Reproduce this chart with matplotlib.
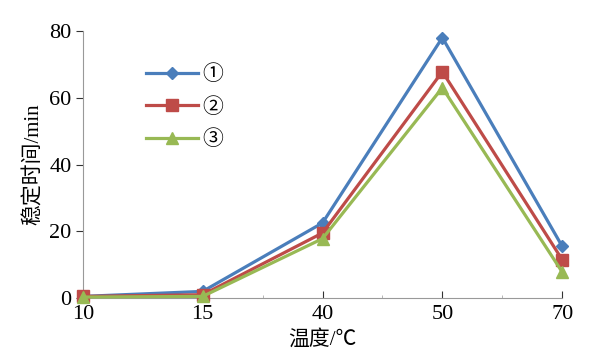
import numpy as np
import matplotlib.pyplot as plt

plt.rcParams['font.family'] = ['Liberation Serif', 'Noto Sans CJK SC', 'DejaVu Sans']

# data
temps = ['10', '15', '40', '50', '70']
s1 = [0.5, 2.0, 22.5, 78.0, 15.5]
s2 = [0.5, 1.0, 19.5, 67.8, 11.5]
s3 = [0.3, 0.5, 17.8, 63.0, 7.8]
names = ['①', '②', '③']

fig = plt.figure(figsize=(6, 3.6), dpi=100)
ax = fig.add_axes([0.138, 0.172, 0.799, 0.742])

x = np.arange(len(temps))
ax.plot(x, s1, color='#4a7ebb', lw=2.3, marker='D', ms=6.5, label=names[0], clip_on=False, zorder=3)
ax.plot(x, s2, color='#be4b48', lw=2.3, marker='s', ms=8, label=names[1], clip_on=False, zorder=3)
ax.plot(x, s3, color='#98b954', lw=2.3, marker='^', ms=9, label=names[2], clip_on=False, zorder=3)

ax.set_xlim(0, len(temps) - 1)
ax.set_ylim(0, 80)
ax.set_xticks(x)
ax.set_xticklabels(temps)
ax.set_xticks(x[:-1] + 0.5, minor=True)
ax.set_yticks([0, 20, 40, 60, 80])

for s in ['top', 'right']:
    ax.spines[s].set_visible(False)
for s in ['left', 'bottom']:
    ax.spines[s].set_color('#999999')

ax.tick_params(axis='x', direction='in', length=5, color='#333333', labelsize=16, pad=5)
ax.tick_params(axis='x', which='minor', direction='in', length=2, color='#aaaaaa')
ax.tick_params(axis='y', direction='out', length=5, color='#333333', labelsize=16, pad=3)

ax.set_xlabel('温度/℃', fontsize=15, labelpad=4)
ax.set_ylabel('稳定时间/min', fontsize=15, labelpad=4)

ax.legend(loc='upper left', bbox_to_anchor=(0.212, 0.87), bbox_transform=fig.transFigure,
          frameon=False, fontsize=15, handlelength=2.5, labelspacing=0.6, handletextpad=0.2)

plt.savefig('out.png', dpi=100)
